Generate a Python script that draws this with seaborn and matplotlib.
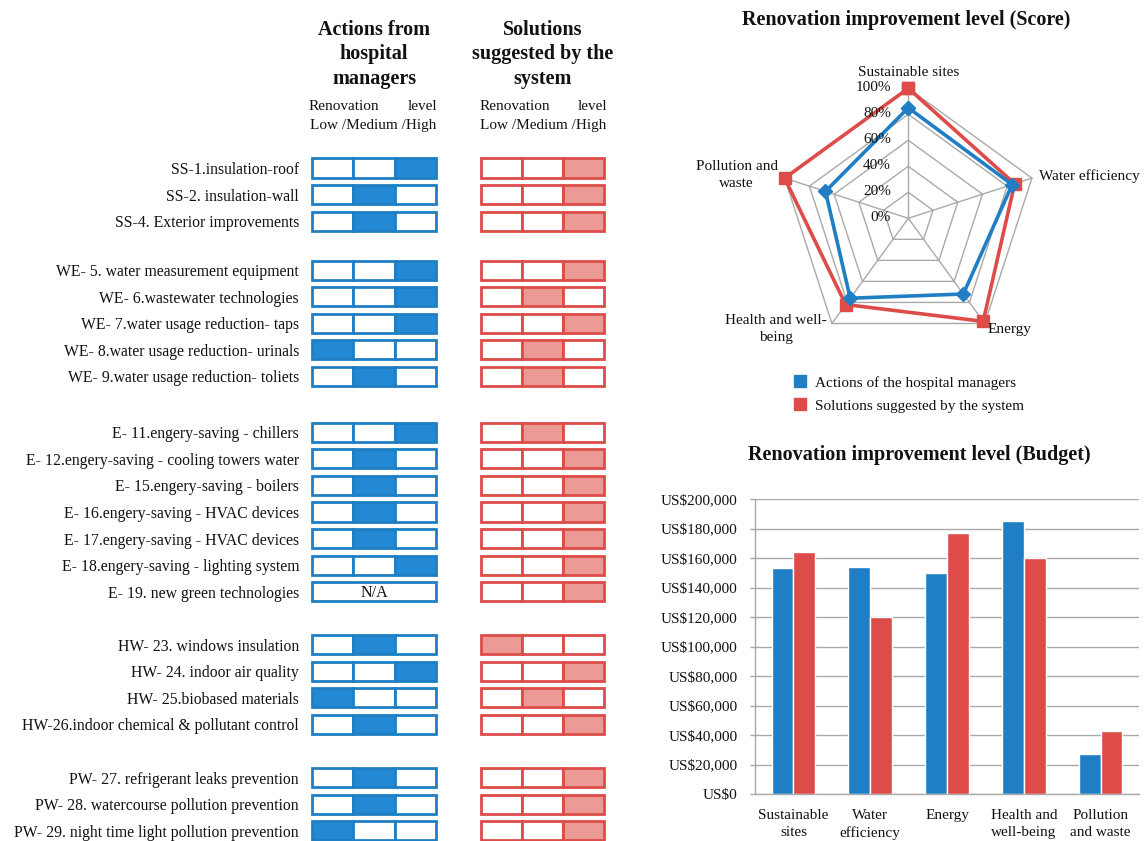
import numpy as np
import pandas as pd
import matplotlib
matplotlib.use("Agg")
import matplotlib.pyplot as plt
from matplotlib.lines import Line2D
from matplotlib.ticker import FuncFormatter
import seaborn as sns

sns.set_theme(style="white")
plt.rcParams["font.family"] = ["Liberation Serif", "DejaVu Serif"]
plt.rcParams["text.color"] = "#111111"

# ------------------------------------------------------------------ data
measures = [
    "SS-1.insulation-roof",
    "SS-2. insulation-wall",
    "SS-4. Exterior improvements",
    "WE- 5. water measurement equipment",
    "WE- 6.wastewater technologies",
    "WE- 7.water usage reduction- taps",
    "WE- 8.water usage reduction- urinals",
    "WE- 9.water usage reduction- toliets",
    "E- 11.engery-saving - chillers",
    "E- 12.engery-saving - cooling towers water",
    "E- 15.engery-saving - boilers",
    "E- 16.engery-saving - HVAC devices",
    "E- 17.engery-saving - HVAC devices",
    "E- 18.engery-saving - lighting system",
    "E- 19. new green technologies",
    "HW- 23. windows insulation",
    "HW- 24. indoor air quality",
    "HW- 25.biobased materials",
    "HW-26.indoor chemical & pollutant control",
    "PW- 27. refrigerant leaks prevention",
    "PW- 28. watercourse pollution prevention",
    "PW- 29. night time light pollution prevention",
]
measure_groups = ["SS"] * 3 + ["WE"] * 5 + ["E"] * 7 + ["HW"] * 4 + ["PW"] * 3

# renovation level: 1 = Low, 2 = Medium, 3 = High, None = N/A
manager_levels = [3, 2, 2, 3, 3, 3, 1, 2, 3, 2, 2, 2, 2, 3, None, 2, 3, 1, 2, 2, 2, 1]
system_levels = [3, 3, 3, 3, 2, 3, 2, 2, 2, 3, 3, 3, 3, 3, 3, 1, 3, 2, 3, 3, 3, 3]

categories = ["Sustainable sites", "Water efficiency", "Energy",
              "Health and well-being", "Pollution and waste"]
radar_labels = ["Sustainable sites", "Water efficiency", "Energy",
                "Health and well-\nbeing", "Pollution and\nwaste"]
bar_labels = ["Sustainable\nsites", "Water\nefficiency", "Energy",
              "Health and\nwell-being", "Pollution\nand waste"]

score_managers = [0.85, 0.84, 0.72, 0.76, 0.67]
score_system = [1.00, 0.86, 0.98, 0.82, 1.00]
radar_ticks = [0.0, 0.2, 0.4, 0.6, 0.8, 1.0]

budget_managers = [153000, 154000, 150000, 185000, 27000]
budget_system = [164000, 120000, 177000, 160000, 43000]
budget_ticks = list(range(0, 200001, 20000))

series_names = ["Actions of the hospital managers", "Solutions suggested by the system"]

# ------------------------------------------------------------------ style
BLUE = "#1F7EC4"
BLUE_FILL = "#2489D4"
RED = "#DD4C49"
RED_FILL = "#EC9A95"
GRID = "#A9A9A9"

W, H = 1145, 841
fig = plt.figure(figsize=(W / 100, H / 100), dpi=100)


def fx(px):
    return px / W


def fy(py):
    return 1 - py / H


# ------------------------------------------------------------------ level table
# row positions, with a blank band before each new measure group
group_gap = {"WE": 0.85, "E": 1.1, "HW": 1.0, "PW": 1.0}
rows = []
pos = 0.0
for i, g in enumerate(measure_groups):
    if i > 0 and g != measure_groups[i - 1]:
        pos += group_gap[g]
    rows.append(pos)
    pos += 1
rows = np.array(rows, dtype=float)

row_px0, row_step = 168.0, 26.56
tab_top, tab_bot = 150.0, 841.0
x_left_px, unit_px = 312.0, 41.3
xlo, xhi = -0.06, 7.18
ax_t = fig.add_axes([fx(x_left_px + xlo * unit_px), fy(tab_bot),
                     fx((xhi - xlo) * unit_px), (tab_bot - tab_top) / H])
ax_t.set_xlim(xlo, xhi)
ax_t.set_ylim((tab_bot - row_px0) / row_step, (tab_top - row_px0) / row_step)

cell_h = 0.72
panels = [(0.0, manager_levels, BLUE, BLUE_FILL), (4.08, system_levels, RED, RED_FILL)]
for x0, levels, edge, fill in panels:
    valid = [i for i, v in enumerate(levels) if v is not None]
    for col in range(3):
        colors = [fill if levels[i] == col + 1 else "white" for i in valid]
        ax_t.barh(rows[valid], 1.0, left=x0 + col, height=cell_h,
                  color=colors, edgecolor=edge, linewidth=2.0, align="center")
    missing = [i for i, v in enumerate(levels) if v is None]
    if missing:
        ax_t.barh(rows[missing], 3.0, left=x0, height=cell_h, color="white",
                  edgecolor=edge, linewidth=2.0, align="center")
        for i in missing:
            ax_t.text(x0 + 1.5, rows[i] + 0.05, "N/A", ha="center", va="center",
                      fontsize=11.5, color="#111111")

ax_t.set_yticks(rows)
ax_t.set_yticklabels(measures, fontsize=11.3)
ax_t.tick_params(axis="y", length=0, pad=7.5, colors="#111111")
ax_t.set_xticks([])
for s in ax_t.spines.values():
    s.set_visible(False)
ax_t.patch.set_alpha(0)

# column headers
head_kw = dict(ha="center", va="center", fontsize=14.5, fontweight="bold",
               linespacing=1.27, multialignment="center")
fig.text(fx(374), fy(54.5), "Actions from\nhospital\nmanagers", **head_kw)
fig.text(fx(543), fy(54.5), "Solutions\nsuggested by the\nsystem", **head_kw)
for left, right in [(309, 437), (480, 607)]:
    fig.text(fx(left), fy(106), "Renovation", ha="left", va="center", fontsize=11)
    fig.text(fx(right), fy(106), "level", ha="right", va="center", fontsize=11)
    fig.text(fx((left + right) / 2), fy(125), "Low /Medium /High", ha="center",
             va="center", fontsize=11)

# ------------------------------------------------------------------ radar chart
cx, cy, rad = 908.3, 218.3, 130.0
ax_r = fig.add_axes([fx(cx - rad), fy(cy + rad), fx(2 * rad), 2 * rad / H],
                    projection="polar")
ax_r.set_theta_offset(np.pi / 2)
ax_r.set_theta_direction(-1)
ax_r.set_ylim(0, 1)
ax_r.grid(False)
ax_r.set_xticks([])
ax_r.set_yticks([])
ax_r.spines["polar"].set_visible(False)
ax_r.patch.set_alpha(0)

angles = np.linspace(0, 2 * np.pi, len(categories), endpoint=False)
closed = np.append(angles, angles[0])
for lvl in radar_ticks[1:]:
    ax_r.plot(closed, [lvl] * len(closed), color=GRID, lw=1.0, zorder=1, clip_on=False)
for a in angles:
    ax_r.plot([a, a], [0, 1], color=GRID, lw=1.0, zorder=1, clip_on=False)

ax_r.plot(closed, score_managers + score_managers[:1], color=BLUE, lw=2.6,
          marker="D", markersize=7, zorder=4, clip_on=False)
ax_r.plot(closed, score_system + score_system[:1], color=RED, lw=2.6,
          marker="s", markersize=9, zorder=3, clip_on=False)

for lvl in radar_ticks:
    ax_r.annotate(f"{lvl:.0%}", xy=(0, lvl), xytext=(-12.5, 0.5),
                  textcoords="offset points", ha="right", va="center",
                  fontsize=11, zorder=5)

# category labels: (dx, dy) offsets in pixels, alignment
label_place = [((0, 16), "center", "center"),
               ((7, 2), "left", "center"),
               ((3, -6), "left", "center"),
               ((-5, -6), "right", "center"),
               ((-7, 3), "right", "center")]
for a, lab, ((dx, dy), ha, va) in zip(angles, radar_labels, label_place):
    ax_r.annotate(lab, xy=(a, 1), xytext=(dx * 0.72, dy * 0.72),
                  textcoords="offset points", ha=ha, va=va,
                  multialignment="center", fontsize=11, linespacing=1.4)

fig.text(fx(906), fy(20), "Renovation improvement level (Score)", ha="center",
         va="center", fontsize=14.5, fontweight="bold")

handles = [Line2D([], [], marker="s", linestyle="none", markersize=8,
                  markerfacecolor=c, markeredgecolor=c) for c in (BLUE, RED)]
fig.legend(handles, series_names, loc="upper left",
           bbox_to_anchor=(fx(792.4), fy(376)), frameon=False, fontsize=11,
           handlelength=1.0, handletextpad=0.5, borderpad=0, borderaxespad=0,
           labelspacing=0.6)

# ------------------------------------------------------------------ budget bars
ax_b = fig.add_axes([fx(755), fy(794), fx(384), 295 / H])
df = pd.DataFrame({
    "category": categories * 2,
    "budget": budget_managers + budget_system,
    "series": [series_names[0]] * len(categories) + [series_names[1]] * len(categories),
})
sns.barplot(data=df, x="category", y="budget", hue="series", order=categories,
            hue_order=series_names, palette=[BLUE, RED], width=0.57,
            saturation=1, errorbar=None, legend=False, ax=ax_b, zorder=3)
ax_b.set_ylim(0, 200000)
ax_b.set_yticks(budget_ticks)
ax_b.yaxis.set_major_formatter(FuncFormatter(lambda v, p: "US\\$" + f"{v:,.0f}"))
ax_b.set_xticks(range(len(categories)))
ax_b.set_xticklabels(bar_labels, linespacing=1.45)
ax_b.set_xlabel("")
ax_b.set_ylabel("")
ax_b.set_axisbelow(True)
ax_b.yaxis.grid(True, color=GRID, lw=1.0)
ax_b.xaxis.grid(False)
for side in ("top", "right"):
    ax_b.spines[side].set_visible(False)
for side in ("left", "bottom"):
    ax_b.spines[side].set_color(GRID)
    ax_b.spines[side].set_linewidth(1.0)
ax_b.tick_params(axis="y", length=3.6, width=1.0, color=GRID, pad=9.0,
                 labelsize=11, labelcolor="#111111", left=True)
ax_b.tick_params(axis="x", length=0, pad=10.5, labelsize=11, labelcolor="#111111")
ax_b.patch.set_alpha(0)

fig.text(fx(919), fy(455), "Renovation improvement level (Budget)", ha="center",
         va="center", fontsize=14.5, fontweight="bold")

fig.savefig("out.png", dpi=100)
